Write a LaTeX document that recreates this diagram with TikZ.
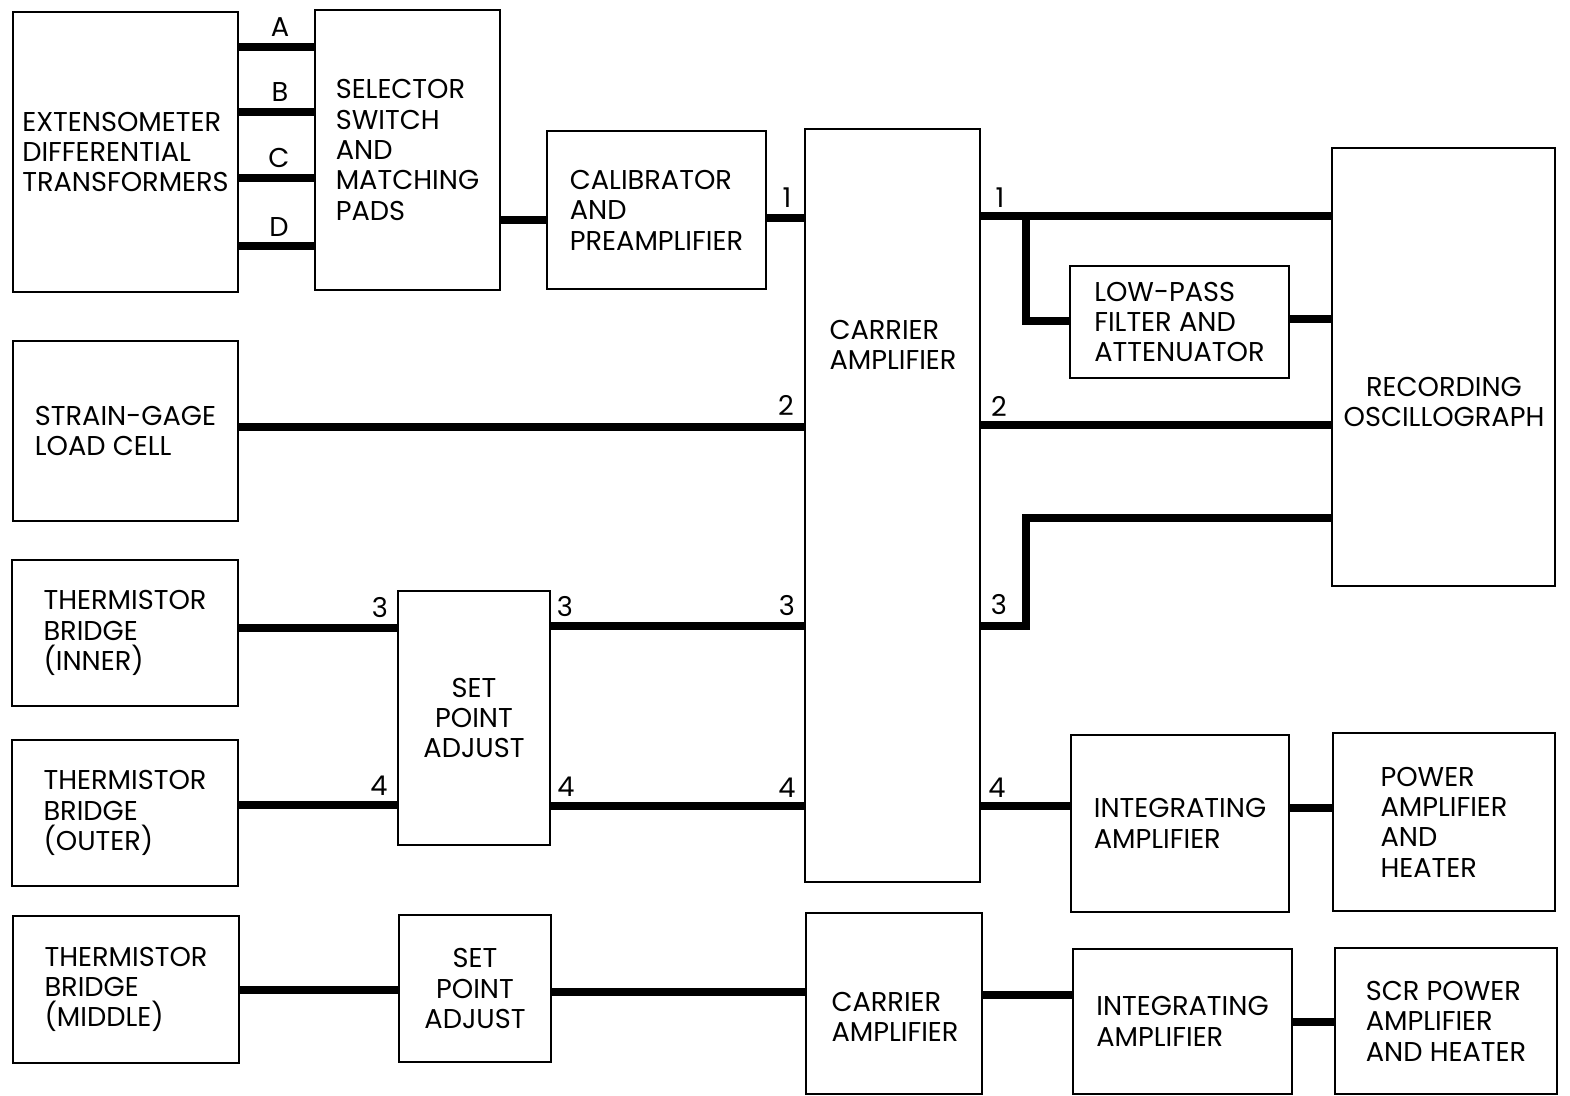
\documentclass[tikz,border=0pt]{standalone}
\usepackage{fontspec}
\setmainfont{Poppins}
\usetikzlibrary{positioning}

\tikzset{
  blk/.style={draw, line width=1.5pt, align=left, inner sep=0pt},
  wire/.style={line width=4pt},
  tag/.style={inner sep=0pt}
}

\begin{document}
\begin{tikzpicture}[x=0.02cm, y=-0.02cm, font=\fontsize{15.5}{17.3}\selectfont]
    \useasboundingbox (0,0) rectangle (1570,1096);

    % Input side
    \node[blk, minimum width=4.5cm, minimum height=5.6cm] (ext) at (125.5,152) {EXTENSOMETER\\DIFFERENTIAL\\TRANSFORMERS};
    \node[blk, minimum width=3.7cm, minimum height=5.6cm] (sel) at (407.5,150) {SELECTOR\\SWITCH\\AND\\MATCHING\\PADS};
    \node[blk, minimum width=4.38cm, minimum height=3.16cm] (cal) at (656.5,210) {CALIBRATOR\\AND\\PREAMPLIFIER};
    \node[blk, minimum width=4.5cm, minimum height=3.6cm] (sg) at (125.5,431) {STRAIN-GAGE\\LOAD CELL};
    \node[blk, minimum width=4.52cm, minimum height=2.92cm] (ti) at (125,633) {THERMISTOR\\BRIDGE\\(INNER)};
    \node[blk, minimum width=4.52cm, minimum height=2.92cm] (to) at (125,813) {THERMISTOR\\BRIDGE\\(OUTER)};
    \node[blk, minimum width=4.52cm, minimum height=2.94cm] (tm) at (126,989.5) {THERMISTOR\\BRIDGE\\(MIDDLE)};
    \node[blk, align=center, minimum width=3.04cm, minimum height=5.08cm] (sp) at (474,718) {SET\\POINT\\ADJUST};
    \node[blk, align=center, minimum width=3.04cm, minimum height=2.94cm] (spb) at (475,988.5) {SET\\POINT\\ADJUST};

    % Carrier amplifiers
    \node[blk, minimum width=3.5cm, minimum height=15.06cm] (ca) at (892.5,505.5) {};
    \node[align=left] (catxt) at (893,345) {CARRIER\\AMPLIFIER};
    \node[blk, minimum width=3.52cm, minimum height=3.62cm] (cab) at (894,1003.5) {};
    \node[align=left] (cabtxt) at (895,1017) {CARRIER\\AMPLIFIER};

    % Output side
    \node[blk, minimum width=4.38cm, minimum height=2.24cm] (lp) at (1179.5,322) {LOW-PASS\\FILTER AND\\ATTENUATOR};
    \node[blk, minimum width=4.46cm, minimum height=8.76cm] (rec) at (1443.5,367) {};
    \node[align=center] (rectxt) at (1444,402) {RECORDING\\OSCILLOGRAPH};
    \node[blk, minimum width=4.36cm, minimum height=3.54cm] (ia) at (1180,823.5) {INTEGRATING\\AMPLIFIER};
    \node[blk, minimum width=4.44cm, minimum height=3.56cm] (pa) at (1444,822) {POWER\\AMPLIFIER\\AND\\HEATER};
    \node[blk, minimum width=4.38cm, minimum height=2.9cm] (iab) at (1182.5,1021.5) {INTEGRATING\\AMPLIFIER};
    \node[blk, minimum width=4.44cm, minimum height=2.92cm] (scr) at (1446,1021) {SCR POWER\\AMPLIFIER\\AND HEATER};

    % Extensometer channels
    \draw[wire] (ext.east |- 0,47) -- (sel.west |- 0,47);
    \draw[wire] (ext.east |- 0,112) -- (sel.west |- 0,112);
    \draw[wire] (ext.east |- 0,178) -- (sel.west |- 0,178);
    \draw[wire] (ext.east |- 0,246) -- (sel.west |- 0,246);
    \node[tag] (la) at (280,27) {A};
    \node[tag] (lb) at (280,92) {B};
    \node[tag] (lc) at (279,158) {C};
    \node[tag] (ld) at (279,227) {D};
    \draw[wire] (sel.east |- 0,220) -- (cal.west |- 0,220);

    % Into carrier amplifier
    \draw[wire] (cal.east |- 0,218) -- (ca.west |- 0,218);
    \draw[wire] (sg.east |- 0,427) -- (ca.west |- 0,427);
    \draw[wire] (ti.east |- 0,628) -- (sp.west |- 0,628);
    \draw[wire] (sp.east |- 0,626) -- (ca.west |- 0,626);
    \draw[wire] (to.east |- 0,805) -- (sp.west |- 0,805);
    \draw[wire] (sp.east |- 0,806) -- (ca.west |- 0,806);
    \node[tag] (in1) at (787,198) {1};
    \node[tag] (in2) at (786,405) {2};
    \node[tag] (sp3a) at (380,608) {3};
    \node[tag] (sp3b) at (565,607) {3};
    \node[tag] (in3) at (787,606) {3};
    \node[tag] (sp4a) at (379,786) {4};
    \node[tag] (sp4b) at (566,787) {4};
    \node[tag] (in4) at (787,788) {4};

    % Out of carrier amplifier
    \coordinate (tap) at (1026,216);
    \coordinate (bend) at (1026,626);
    \draw[wire] (ca.east |- tap) -- (rec.west |- tap);
    \draw[wire] (tap) |- (lp.west |- 0,321);
    \draw[wire] (lp.east |- 0,319) -- (rec.west |- 0,319);
    \draw[wire] (ca.east |- 0,425) -- (rec.west |- 0,425);
    \draw[wire] (ca.east |- bend) -- (bend) |- (rec.west |- 0,518);
    \draw[wire] (ca.east |- 0,806) -- (ia.west |- 0,806);
    \draw[wire] (ia.east |- 0,808) -- (pa.west |- 0,808);
    \node[tag] (out1) at (1000,198) {1};
    \node[tag] (out2) at (999,406) {2};
    \node[tag] (out3) at (999,605) {3};
    \node[tag] (out4) at (997,788) {4};

    % Middle heater loop
    \draw[wire] (tm.east |- 0,990) -- (spb.west |- 0,990);
    \draw[wire] (spb.east |- 0,992) -- (cab.west |- 0,992);
    \draw[wire] (cab.east |- 0,995) -- (iab.west |- 0,995);
    \draw[wire] (iab.east |- 0,1022) -- (scr.west |- 0,1022);
\end{tikzpicture}
\end{document}
